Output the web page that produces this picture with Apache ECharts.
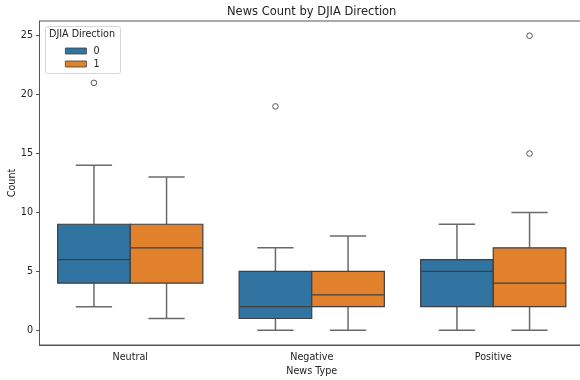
<!DOCTYPE html>
<html>
<head>
<meta charset="utf-8">
<script src="https://cdn.jsdelivr.net/npm/echarts@6/dist/echarts.min.js"></script>
<style>html,body{margin:0;padding:0;background:#fff}#c{width:580px;height:380px}</style>
</head>
<body>
<div id="c"></div>
<script>
var categories = ['Neutral', 'Negative', 'Positive'];
var hues = ['0', '1'];
// [lowWhisker, Q1, median, Q3, highWhisker] per category
var stats0 = [[2, 4, 6, 9, 14], [0, 1, 2, 5, 7], [0, 2, 5, 6, 9]];
var stats1 = [[1, 4, 7, 9, 13], [0, 2, 3, 5, 8], [0, 2, 4, 7, 10]];
// [categoryIndex, value]
var outliers0 = [[0, 21], [1, 19]];
var outliers1 = [[2, 15], [2, 25]];
var yTicks = [0, 5, 10, 15, 20, 25];
var colors = ['#3274a1', '#e1812c'];

var FONT = 'DejaVu Sans';
var EDGE = '#3f3f3f';
var WHISK = '#6a6a6a';

function boxRender(hueIdx) {
  return function (params, api) {
    var ci = api.value(0);
    var band = api.size([1, 0])[0];
    var off = (hueIdx === 0 ? -0.2 : 0.2) * band;
    var w = 0.4 * band;
    var cx = api.coord([ci, 0])[0] + off;
    var pLow = api.coord([ci, api.value(1)])[1];
    var pQ1 = api.coord([ci, api.value(2)])[1];
    var pMed = api.coord([ci, api.value(3)])[1];
    var pQ3 = api.coord([ci, api.value(4)])[1];
    var pHigh = api.coord([ci, api.value(5)])[1];
    var ls = { stroke: WHISK, lineWidth: 1.5 };
    return {
      type: 'group',
      children: [
        { type: 'line', shape: { x1: cx, y1: pQ3, x2: cx, y2: pHigh }, style: ls },
        { type: 'line', shape: { x1: cx, y1: pQ1, x2: cx, y2: pLow }, style: ls },
        { type: 'line', shape: { x1: cx - w / 4, y1: pHigh, x2: cx + w / 4, y2: pHigh }, style: ls },
        { type: 'line', shape: { x1: cx - w / 4, y1: pLow, x2: cx + w / 4, y2: pLow }, style: ls },
        { type: 'rect', shape: { x: cx - w / 2, y: pQ3, width: w, height: pQ1 - pQ3 },
          style: { fill: colors[hueIdx], stroke: EDGE, lineWidth: 1.2 } },
        { type: 'line', shape: { x1: cx - w / 2, y1: pMed, x2: cx + w / 2, y2: pMed },
          style: { stroke: EDGE, lineWidth: 1.2 } }
      ]
    };
  };
}

function outRender(hueIdx) {
  return function (params, api) {
    var ci = api.value(0);
    var band = api.size([1, 0])[0];
    var off = (hueIdx === 0 ? -0.2 : 0.2) * band;
    var p = api.coord([ci, api.value(1)]);
    return {
      type: 'circle',
      shape: { cx: p[0] + off, cy: p[1], r: 2.8 },
      style: { fill: '#fff', stroke: '#555', lineWidth: 1 }
    };
  };
}

function boxData(stats) {
  return stats.map(function (s, i) { return [i].concat(s); });
}

var chart = echarts.init(document.getElementById('c'), null, { renderer: 'canvas' });
chart.setOption({
  animation: false,
  backgroundColor: '#fff',
  textStyle: { fontFamily: FONT },
  title: {
    text: 'News Count by DJIA Direction',
    left: 311.7, top: 6, padding: 0, textAlign: 'center',
    textStyle: { fontFamily: FONT, fontSize: 11.5, fontWeight: 'normal', color: '#222' }
  },
  grid: {
    left: 39.5, top: 21, width: 544.5, height: 324,
    outerBoundsMode: 'none', containLabel: false,
    show: true, borderColor: '#555', borderWidth: 1, backgroundColor: 'transparent'
  },
  legend: {
    orient: 'vertical', left: 65, top: 46, padding: 0, z: 20,
    itemWidth: 21, itemHeight: 6, itemGap: 3,
    textStyle: { fontFamily: FONT, fontSize: 9.6, color: '#222', padding: [0, 0, 0, 2] },
    data: [
      { name: '0', icon: 'rect', itemStyle: { color: colors[0], borderColor: EDGE, borderWidth: 0.8 } },
      { name: '1', icon: 'rect', itemStyle: { color: colors[1], borderColor: EDGE, borderWidth: 0.8 } }
    ]
  },
  graphic: [
    { type: 'rect', left: 45, top: 26, z: 10,
      shape: { width: 75, height: 47, r: 2 },
      style: { fill: 'rgba(255,255,255,0.85)', stroke: '#d6d6d6', lineWidth: 1 } },
    { type: 'text', left: 49, top: 29, z: 21,
      style: { text: 'DJIA Direction', fontFamily: FONT, fontSize: 9.6, fill: '#222' } }
  ],
  xAxis: {
    type: 'category', data: categories,
    name: 'News Type', nameLocation: 'middle', nameGap: 21,
    nameTextStyle: { fontFamily: FONT, fontSize: 9.6, color: '#222' },
    axisLine: { onZero: false, lineStyle: { color: '#555', width: 1 } },
    axisTick: { alignWithLabel: true, length: 3.5, lineStyle: { color: '#555' } },
    axisLabel: { fontFamily: FONT, fontSize: 9.6, color: '#222', margin: 7 },
    splitLine: { show: false }
  },
  yAxis: {
    type: 'value', min: -1.25, max: 26.25,
    name: 'Count', nameLocation: 'middle', nameGap: 22, nameRotate: 90, nameMoveOverlap: false,
    nameTextStyle: { fontFamily: FONT, fontSize: 9.6, color: '#222' },
    axisLine: { show: true, lineStyle: { color: '#555', width: 1 } },
    axisTick: { show: true, length: 3.5, customValues: yTicks, lineStyle: { color: '#555' } },
    axisLabel: { fontFamily: FONT, fontSize: 9.6, color: '#222', margin: 6.5, customValues: yTicks },
    splitLine: { show: false }
  },
  series: [
    { name: '0', type: 'custom', renderItem: boxRender(0), data: boxData(stats0),
      itemStyle: { color: colors[0] }, encode: { x: 0, y: [1, 2, 3, 4, 5] }, z: 2 },
    { name: '1', type: 'custom', renderItem: boxRender(1), data: boxData(stats1),
      itemStyle: { color: colors[1] }, encode: { x: 0, y: [1, 2, 3, 4, 5] }, z: 2 },
    { name: '0', type: 'custom', renderItem: outRender(0), data: outliers0,
      itemStyle: { color: colors[0] }, encode: { x: 0, y: 1 }, z: 3 },
    { name: '1', type: 'custom', renderItem: outRender(1), data: outliers1,
      itemStyle: { color: colors[1] }, encode: { x: 0, y: 1 }, z: 3 }
  ]
});
</script>
</body>
</html>
